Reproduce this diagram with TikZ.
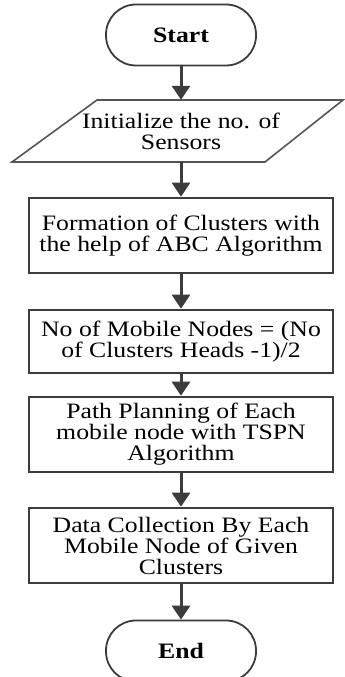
\documentclass[tikz,border=0pt]{standalone}
\usepackage{fontspec}
\setmainfont{Liberation Serif}[FakeStretch=1.17]
\usepackage{tikz}
\usetikzlibrary{arrows.meta}
\definecolor{darkline}{HTML}{3C3C3C}
\definecolor{thinline}{HTML}{555555}
\tikzset{
  terminal/.style={draw=darkline, line width=1.8pt, rounded corners=30pt,
    minimum width=150pt, minimum height=61pt, inner sep=0pt,
    font=\fontsize{22}{21}\selectfont\bfseries},
  inout/.style={minimum width=250pt, minimum height=62pt, inner sep=0pt,
    align=center, font=\fontsize{22}{21}\selectfont},
  process/.style={draw=darkline, line width=2.6pt, minimum width=304pt,
    inner sep=0pt, align=center, font=\fontsize{22}{21}\selectfont},
  flow/.style={-{Triangle[width=18pt,length=14pt]}, line width=3pt, draw=darkline},
}
\begin{document}
\begin{tikzpicture}[x=1pt, y=-1pt]
  \useasboundingbox (0,0) rectangle (345,677);

  % Start
  \node (start) [terminal] at (181,35) {Start};

  % Initialize sensors
  \node (init) [inout] at (181,131) {Initialize the no. of\\ Sensors};
  \draw[thinline, line width=1.6pt]
    (97,100) -- (343,100) -- (265,162) -- (12,162) -- cycle;

  % Clustering with ABC
  \node (form) [process, minimum height=75pt] at (181,235.5)
    {Formation of Clusters with\\ the help of ABC Algorithm};

  % Mobile nodes
  \node (mobile) [process, minimum height=63pt] at (181,341.5)
    {No of Mobile Nodes = (No\\ of Clusters Heads -1)/2};

  % Path planning
  \node (path) [process, minimum height=75pt] at (181,434.5)
    {Path Planning of Each\\ mobile node with TSPN\\ Algorithm};

  % Data collection
  \node (data) [process, minimum height=75pt] at (181,545.5)
    {Data Collection By Each\\ Mobile Node of Given\\ Clusters};

  % End
  \node (stop) [terminal] at (181,651) {End};

  % arrows
  \draw[flow] (start.south) -- (init.north);
  \draw[flow] (init.south) -- (form.north);
  \draw[flow] (form.south) -- (mobile.north);
  \draw[flow] (mobile.south) -- (path.north);
  \draw[flow] (path.south) -- (data.north);
  \draw[flow] (data.south) -- (stop.north);
\end{tikzpicture}
\end{document}
